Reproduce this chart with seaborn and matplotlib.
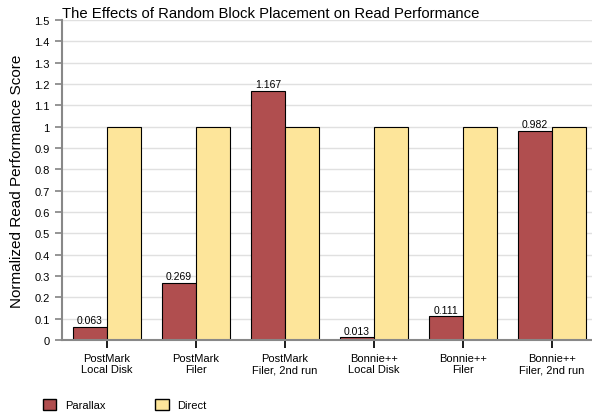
import pandas as pd
import numpy as np
import matplotlib
matplotlib.use("Agg")
import matplotlib.pyplot as plt
import seaborn as sns
from matplotlib.patches import Patch

categories = ["PostMark\nLocal Disk", "PostMark\nFiler", "PostMark\nFiler, 2nd run",
              "Bonnie++\nLocal Disk", "Bonnie++\nFiler", "Bonnie++\nFiler, 2nd run"]
parallax = [0.063, 0.269, 1.167, 0.013, 0.111, 0.982]
direct = [1, 1, 1, 1, 1, 1]
series = ["Parallax", "Direct"]
colors = ["#B04E4F", "#FDE59A"]

df = pd.DataFrame({
    "cat": categories * 2,
    "series": ["Parallax"] * 6 + ["Direct"] * 6,
    "value": parallax + direct,
})

sns.set_theme(style="white", rc={"text.color": "black", "axes.labelcolor": "black",
                                 "xtick.color": "black", "ytick.color": "black"})
plt.rcParams["font.family"] = ["Liberation Sans", "DejaVu Sans"]

fig = plt.figure(figsize=(5.92, 4.14), dpi=100)
ax = fig.add_axes([0.105, 0.176, 0.895, 0.773])

sns.barplot(df, x="cat", y="value", hue="series", order=categories, hue_order=series,
            palette=colors, width=0.76, edgecolor="black", linewidth=0.8,
            saturation=1, legend=False, ax=ax)

ax.set_ylim(0, 1.5)
ax.set_xlim(-0.5, 5.45)
yt = np.round(np.arange(0, 1.51, 0.1), 1)
ax.set_yticks(yt)
ax.set_yticklabels(["%g" % v for v in yt], fontsize=8)
ax.yaxis.grid(True, color="#E0E0E0", linewidth=1)
ax.set_axisbelow(True)
ax.tick_params(axis="y", left=True, length=5, color="#888888", pad=4)
ax.tick_params(axis="x", bottom=True, length=6, color="black", labelsize=8, pad=3)
for s in ["top", "right"]:
    ax.spines[s].set_visible(False)
ax.spines["left"].set_color("#888888")
ax.spines["left"].set_linewidth(1.5)
ax.spines["bottom"].set_color("#888888")
ax.spines["bottom"].set_linewidth(1.5)

ax.set_xlabel("")
ax.set_ylabel("Normalized Read Performance Score", fontsize=11, labelpad=7)

# value labels on the Parallax bars
for bar, v in zip(ax.containers[0], parallax):
    ax.text(bar.get_x() + bar.get_width() / 2, v + 0.008, "%.3f" % v,
            ha="center", va="bottom", fontsize=7.5)

ax.set_title("The Effects of Random Block Placement on Read Performance",
             fontsize=10.7, loc="left", pad=2)

handles = [Patch(facecolor=c, edgecolor="black", label=s) for s, c in zip(series, colors)]
fig.legend(handles=handles, loc="lower left", bbox_to_anchor=(0.055, -0.018), ncol=2,
           frameon=False, fontsize=8, handlelength=1.2, handleheight=1.2,
           columnspacing=4.5, handletextpad=0.8)

fig.savefig("out.png", dpi=100)
